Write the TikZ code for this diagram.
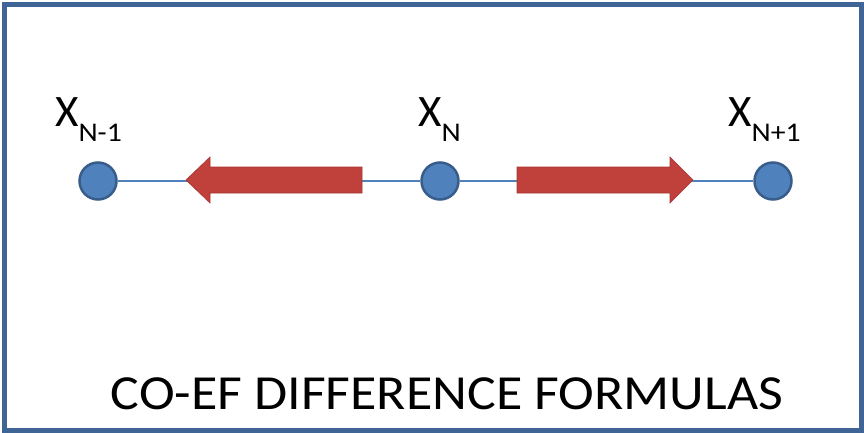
\documentclass[tikz,border=0pt]{standalone}
\usepackage{fontspec}
\setmainfont{Carlito}
\definecolor{Frame}{HTML}{3F6597}
\definecolor{Dot}{HTML}{4F81BD}
\definecolor{DotEdge}{HTML}{385D8A}
\definecolor{Push}{HTML}{C0403B}
\newcommand{\xlab}[1]{{\fontsize{45}{45}\selectfont X}\raisebox{-15pt}{\scalebox{1.1}[1]{\fontsize{27}{27}\selectfont #1}}}

\begin{document}
\begin{tikzpicture}[x=1pt,y=-1pt,
    dot/.style={circle,draw=DotEdge,line width=2.5pt,fill=Dot,minimum size=37pt,inner sep=0pt},
    lab/.style={anchor=base west,inner sep=0pt},
    push/.style={fill=Push,draw=Push!85!black,line width=0.6pt}]
    \useasboundingbox (0,0) rectangle (864,433);
    \draw[Frame,line width=5pt] (4.5,4.5) rectangle (861.5,430.5);

    % points on the line
    \node[dot] (xm) at (98,181) {};
    \node[dot] (x0) at (440,181) {};
    \node[dot] (xp) at (773,181) {};
    \draw[Dot,line width=1.5pt] (xm) -- (x0);
    \draw[Dot,line width=1.5pt] (x0) -- (xp);

    % block arrows
    \draw[push] (186,180) -- (210,157) -- (210,167) -- (362,167) -- (362,193) -- (210,193) -- (210,203) -- cycle;
    \draw[push] (693,180) -- (670,157) -- (670,167) -- (517,167) -- (517,193) -- (670,193) -- (670,203) -- cycle;

    \node[lab] (lm) at (55,127) {\xlab{N-1}};
    \node[lab] (l0) at (418,127) {\xlab{N}};
    \node[lab] (lp) at (728,127) {\xlab{N+1}};

    \node[anchor=base,inner sep=0pt] (title) at (447,409) {\scalebox{1.1}[1]{\fontsize{49}{49}\selectfont CO-EF DIFFERENCE FORMULAS}};
\end{tikzpicture}
\end{document}
